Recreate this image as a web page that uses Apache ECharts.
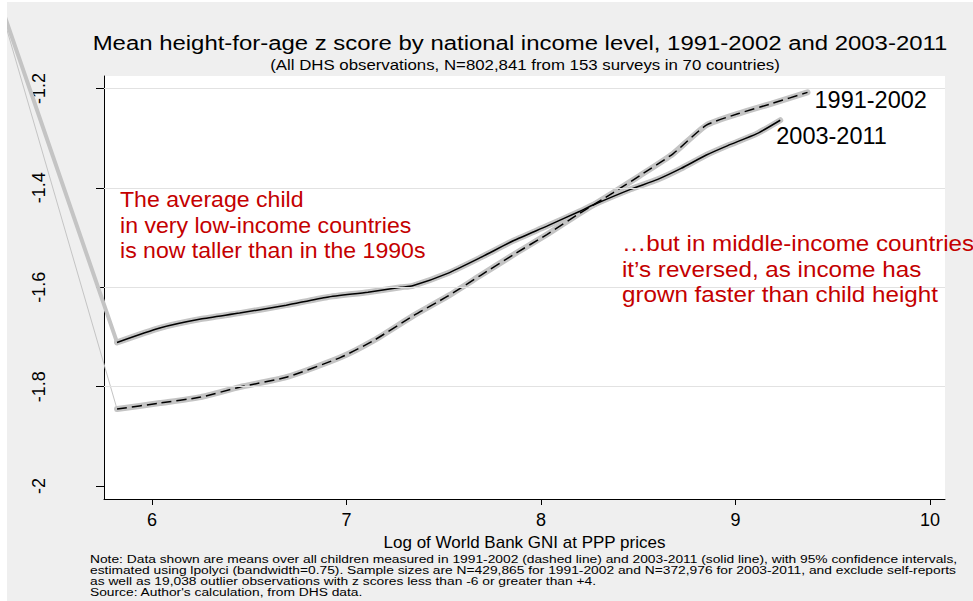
<!DOCTYPE html>
<html>
<head>
<meta charset="utf-8">
<script src="https://cdn.jsdelivr.net/npm/echarts@6/dist/echarts.min.js"></script>
<style>
    html, body { margin: 0; padding: 0; background: #fff; }
    /* the figure sits inside a thin white border, like the exported Stata graph */
    .chart { position: absolute; left: 7px; top: 2px; width: 966px; height: 599px; background: #efefef; overflow: hidden; }
</style>
</head>
<body>
<div class="chart"></div>
<script>
// tick values
var xTicks = [6, 7, 8, 9, 10];
var yTicks = [-2, -1.8, -1.6, -1.4, -1.2];
var gridValues = [-1.8, -1.6, -1.4, -1.2];

// 2003-2011, solid line
var gniNew = [5.82, 6.04, 6.25, 6.45, 6.69, 6.90, 7.11, 7.28, 7.34, 7.52, 7.69, 7.86, 8.03, 8.20, 8.27, 8.46, 8.60, 8.72, 8.85, 8.96, 9.11, 9.23];
var hazNew = [-1.711, -1.682, -1.664, -1.652, -1.636, -1.620, -1.610, -1.600, -1.597, -1.572, -1.540, -1.506, -1.477, -1.447, -1.434, -1.403, -1.383, -1.361, -1.334, -1.315, -1.291, -1.264];

// 1991-2002, dashed line
var gniOld = [5.82, 6.04, 6.25, 6.45, 6.69, 6.97, 7.14, 7.34, 7.52, 7.69, 7.86, 8.03, 8.20, 8.37, 8.51, 8.68, 8.85, 9.02, 9.19, 9.37];
var hazOld = [-1.845, -1.833, -1.821, -1.801, -1.781, -1.741, -1.707, -1.658, -1.618, -1.576, -1.534, -1.494, -1.451, -1.410, -1.375, -1.331, -1.274, -1.250, -1.230, -1.208];

// the first confidence-interval segment shoots off outside the plot region
// [x0, y0, x1, y1]
var ciEdgeNew = [5.167, -0.969, 5.82, -1.711];
var ciEdgeOld = [5.167, -0.965, 5.82, -1.845];

var titleText = "Mean height-for-age z score by national income level, 1991-2002 and 2003-2011";
var subText = "(All DHS observations, N=802,841 from 153 surveys in 70 countries)";
var leftNote = "The average child\nin very low-income countries\nis now taller than in the 1990s";
var rightNote = "\u2026but in middle-income countries\nit\u2019s reversed, as income has\ngrown faster than child height";
var footNote = "Note: Data shown are means over all children measured in 1991-2002 (dashed line) and 2003-2011 (solid line), with 95% confidence intervals,\n" +
    "estimated using lpolyci (bandwidth=0.75). Sample sizes are N=429,865 for 1991-2002 and N=372,976 for 2003-2011, and exclude self-reports\n" +
    "as well as 19,038 outlier observations with z scores less than -6 or greater than +4.\n" +
    "Source: Author's calculation, from DHS data.";

var FONT = "'Liberation Sans', Arial, Helvetica, sans-serif";
var RED = "#c40000";
var BAND = "#c4c4c4";

function pairs(xs, ys) {
    return xs.map(function (x, i) { return [x, ys[i]]; });
}

// straight segment through the axes, not clipped to the plot region
function edgeSeries(seg, width) {
    return {
        type: "custom", data: [seg], clip: false, z: 2, silent: true,
        encode: { x: [0, 2], y: [1, 3] },
        renderItem: function (params, api) {
            var p0 = api.coord([api.value(0), api.value(1)]);
            var p1 = api.coord([api.value(2), api.value(3)]);
            return {
                type: "line",
                shape: { x1: p0[0], y1: p0[1], x2: p1[0], y2: p1[1] },
                style: { stroke: BAND, lineWidth: width, lineCap: "round" }
            };
        }
    };
}

var myChart = echarts.init(document.querySelector(".chart"), null, { renderer: "svg" });

var option = {
    animation: false,
    textStyle: { fontFamily: FONT },
    grid: {
        left: 97, top: 74, right: 28, bottom: 102,
        show: true, backgroundColor: "#fff", borderWidth: 0
    },
    xAxis: {
        type: "value",
        min: 5.753, max: 10.077,
        name: "Log of World Bank GNI at PPP prices",
        nameLocation: "middle",
        nameGap: 31,
        nameTextStyle: { fontSize: 17, color: "#000", fontFamily: FONT },
        axisLine: { show: true, onZero: false, lineStyle: { color: "#000", width: 1 } },
        axisTick: { show: true, length: 6, customValues: xTicks, lineStyle: { color: "#000" } },
        axisLabel: { customValues: xTicks, fontSize: 18, color: "#000", margin: 12, fontFamily: FONT },
        splitLine: { show: false }
    },
    yAxis: {
        type: "value",
        min: -2.026, max: -1.175,
        axisLine: { show: true, onZero: false, lineStyle: { color: "#000", width: 1 } },
        axisTick: { show: true, length: 8, customValues: yTicks, lineStyle: { color: "#000" } },
        axisLabel: {
            customValues: yTicks, fontSize: 18, color: "#000", margin: 56, rotate: 90,
            fontFamily: FONT,
            formatter: function (v) { return String(v); }
        },
        splitLine: { show: false }
    },
    graphic: [
        { type: "text", x: 513, y: 41, scaleX: 1.14, style: { text: titleText, font: "21px " + FONT, fill: "#000", textAlign: "center", textVerticalAlign: "middle" } },
        { type: "text", x: 518, y: 63, scaleX: 1.16, style: { text: subText, font: "14.5px " + FONT, fill: "#000", textAlign: "center", textVerticalAlign: "middle" } },
        { type: "text", x: 113, y: 185, z: 50, scaleX: 1.05, style: { text: leftNote, font: "22px " + FONT, fill: RED, lineHeight: 25.5, textVerticalAlign: "top" } },
        { type: "text", x: 615, y: 229, z: 50, scaleX: 1.1, style: { text: rightNote, font: "22px " + FONT, fill: RED, lineHeight: 25.5, textVerticalAlign: "top" } },
        { type: "text", x: 83, y: 552, scaleX: 1.2, style: { text: footNote, font: "11.5px " + FONT, fill: "#000", lineHeight: 11, textVerticalAlign: "top" } }
    ],
    series: [
        // grid lines
        {
            type: "line", data: [], z: 1, silent: true,
            markLine: {
                silent: true, symbol: "none", label: { show: false },
                lineStyle: { color: "#e2e2e2", width: 1, type: "solid" },
                data: gridValues.map(function (v) { return { yAxis: v }; })
            }
        },
        // confidence bands (grey, under the black lines)
        edgeSeries(ciEdgeNew, 4),
        edgeSeries(ciEdgeOld, 1),
        {
            type: "line", data: pairs(gniNew, hazNew), z: 3, smooth: 0.2,
            symbol: "none", lineStyle: { color: BAND, width: 6, cap: "round", join: "round" }
        },
        {
            type: "line", data: pairs(gniOld, hazOld), z: 3, smooth: 0.2,
            symbol: "none", lineStyle: { color: BAND, width: 6, cap: "round", join: "round" }
        },
        // the means
        {
            name: "1991-2002", type: "line", data: pairs(gniOld, hazOld), z: 4, smooth: 0.2,
            symbol: "none", lineStyle: { color: "#000", width: 1.5, type: [10, 5] },
            endLabel: {
                show: true, formatter: "1991-2002", color: "#000", fontSize: 23.5,
                fontFamily: FONT, distance: 7, offset: [0, 8]
            }
        },
        {
            name: "2003-2011", type: "line", data: pairs(gniNew, hazNew), z: 4, smooth: 0.2,
            symbol: "none", lineStyle: { color: "#000", width: 1.5 },
            endLabel: {
                show: true, formatter: "2003-2011", color: "#000", fontSize: 23.5,
                fontFamily: FONT, distance: 0, offset: [-4, 16]
            }
        }
    ]
};

myChart.setOption(option);
</script>
</body>
</html>
